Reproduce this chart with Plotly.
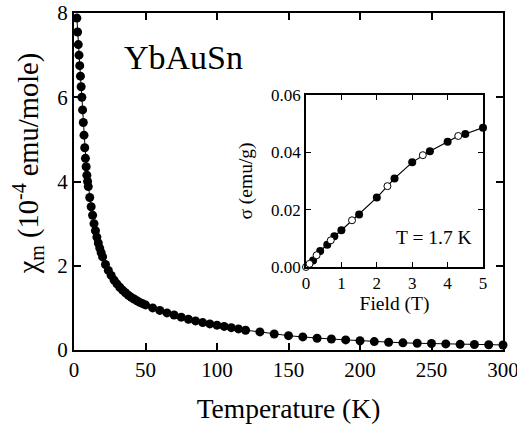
import plotly.graph_objects as go

# Main panel: susceptibility vs temperature
temperature_K = [2, 2.5, 3, 3.5, 4, 4.5, 5, 5.5, 6, 6.5, 7, 7.5, 8, 8.5, 9, 9.5, 10,
                 11, 12, 13, 14, 15, 16, 17, 18, 19, 20,
                 22, 24, 26, 28, 30, 32, 34, 36, 38, 40, 42, 44, 46, 48, 50,
                 55, 60, 65, 70, 75, 80, 85, 90, 95, 100, 105, 110, 115, 120,
                 130, 140, 150, 160, 170, 180, 190, 200, 210, 220, 230, 240, 250,
                 260, 270, 280, 290, 300]
chi_m = [7.88, 7.55, 7.25, 7.0, 6.75, 6.5, 6.25, 6.0, 5.7, 5.4, 5.1, 4.8, 4.55, 4.35, 4.15, 4.0, 3.88,
         3.62, 3.4, 3.2, 3.0, 2.83, 2.68, 2.54, 2.42, 2.31, 2.21,
         2.03, 1.89, 1.77, 1.66, 1.57, 1.49, 1.42, 1.36, 1.30, 1.25, 1.21, 1.17, 1.13, 1.10, 1.07,
         1.0, 0.94, 0.88, 0.83, 0.78, 0.73, 0.69, 0.65, 0.62, 0.59, 0.56, 0.53, 0.50, 0.47,
         0.43, 0.38, 0.34, 0.31, 0.28, 0.26, 0.24, 0.22, 0.20, 0.185, 0.17, 0.16, 0.155,
         0.145, 0.135, 0.13, 0.125, 0.12]

# Inset: magnetization vs field at 1.7 K
field_filled = [0.2, 0.4, 0.6, 0.8, 1.0, 1.5, 2.0, 2.5, 3.0, 3.5, 4.0, 4.5, 5.0]
sigma_filled = [0.0023, 0.0056, 0.0078, 0.0107, 0.0128, 0.0183, 0.0242, 0.0309, 0.0365, 0.0404, 0.0437, 0.0464, 0.0486]
field_open = [0.0, 0.1, 0.3, 0.7, 1.3, 2.3, 3.3, 4.3]
sigma_open = [0.0, 0.0011, 0.0041, 0.0093, 0.0163, 0.0282, 0.0390, 0.0457]

main_xticks = [0, 50, 100, 150, 200, 250, 300]
main_yticks = [0, 2, 4, 6, 8]
inset_xticks = [0, 1, 2, 3, 4, 5]
inset_yticks = [0.0, 0.02, 0.04, 0.06]

FONT = "Liberation Serif, Times New Roman, Times, DejaVu Serif, serif"

pairs = sorted(zip(field_filled + field_open, sigma_filled + sigma_open))
line_f = [p[0] for p in pairs]
line_s = [p[1] for p in pairs]

fig = go.Figure()
fig.add_trace(go.Scatter(x=temperature_K, y=chi_m, mode="lines+markers",
                         line=dict(color="black", width=1),
                         marker=dict(color="black", size=9),
                         cliponaxis=False, showlegend=False))
fig.add_trace(go.Scatter(x=line_f, y=line_s, mode="lines", xaxis="x2", yaxis="y2",
                         line=dict(color="black", width=1.2), showlegend=False))
fig.add_trace(go.Scatter(x=field_filled, y=sigma_filled, mode="markers", xaxis="x2", yaxis="y2",
                         marker=dict(color="black", size=8), cliponaxis=False, showlegend=False))
fig.add_trace(go.Scatter(x=field_open, y=sigma_open, mode="markers", xaxis="x2", yaxis="y2",
                         marker=dict(color="white", size=7, line=dict(color="black", width=1)),
                         cliponaxis=False, showlegend=False))

axis_common = dict(showline=True, linecolor="black", mirror="ticks", ticks="inside",
                   tickcolor="black", showgrid=False, zeroline=False, automargin=False,
                   ticklabeloverflow="allow")

fig.update_layout(
    width=517, height=428,
    margin=dict(l=74, r=14, t=13, b=78),
    paper_bgcolor="white", plot_bgcolor="white",
    font=dict(family=FONT, color="black"),
    xaxis=dict(range=[0, 300], tickvals=main_xticks, ticklen=7, tickwidth=1.5, linewidth=2,
               tickfont=dict(size=21, family=FONT),
               title=dict(text="Temperature (K)", font=dict(size=27.5, family=FONT), standoff=18),
               **axis_common),
    yaxis=dict(range=[0, 8], tickvals=main_yticks, ticklen=7, tickwidth=1.5, linewidth=2,
               tickfont=dict(size=21, family=FONT),
               **axis_common),
    xaxis2=dict(domain=[0.5408, 0.9534], anchor="y2", range=[0, 5], tickvals=inset_xticks,
                ticklen=5, tickwidth=1.2, linewidth=1.5, tickfont=dict(size=17, family=FONT),
                title=dict(text="Field (T)", font=dict(size=19.5, family=FONT), standoff=4),
                **axis_common),
    yaxis2=dict(domain=[0.2463, 0.7567], anchor="x2", range=[0, 0.06], tickvals=inset_yticks,
                tickformat=".2f", ticklen=5, tickwidth=1.2, linewidth=1.5,
                tickfont=dict(size=17, family=FONT),
                title=dict(text="σ (emu/g)", font=dict(size=19.5, family=FONT), standoff=13),
                **axis_common),
    annotations=[
        dict(text="χ<sub>m</sub> (10<sup>-4</sup> emu/mole)", x=-0.108, y=0.553,
             xref="paper", yref="paper", showarrow=False, textangle=-90,
             font=dict(size=28.5, family=FONT), xanchor="center", yanchor="middle"),
        dict(text="YbAuSn", x=0.2564, y=0.8665, xref="paper", yref="paper", showarrow=False,
             font=dict(size=34, family=FONT), xanchor="center", yanchor="middle"),
        dict(text="T = 1.7 K", x=0.8385, y=0.3353, xref="paper", yref="paper", showarrow=False,
             font=dict(size=19.5, family=FONT), xanchor="center", yanchor="middle"),
    ],
)

fig.write_html("out.html")
